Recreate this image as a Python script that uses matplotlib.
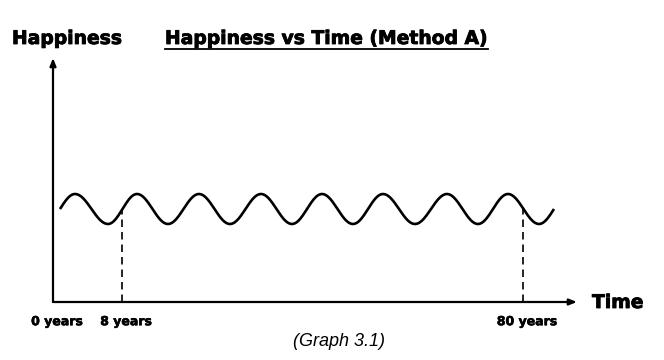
import numpy as np
import matplotlib
matplotlib.use('Agg')
import matplotlib.pyplot as plt
import matplotlib.patheffects as pe
from matplotlib.transforms import ScaledTranslation

# wave (x: units from the origin, y: height above the time axis)
wave_start = (7, 93)
wave_end = (501, 93)
extrema_x = [22, 55, 84, 115, 146, 177, 208, 239, 269, 300, 330, 362, 394, 425, 455, 486]
extrema_y = [108, 78, 108, 78, 108, 78, 108, 78, 108, 78, 108, 78, 108, 78, 108, 78]

# dashed markers at 8 years and 80 years
marker_x = [69, 470]
marker_y = [93, 93]

tick_pos = [0, 69, 470]
tick_labels = ['0 years', '8 years', '80 years']


def curve_through(px, py, mid_first, mid_last, n=40):
    xs, ys = [], []
    for i in range(len(px) - 1):
        t = np.linspace(0, 1, n)
        x0, x1, y0, y1 = px[i], px[i + 1], py[i], py[i + 1]
        if i == 0 and mid_first:
            s = np.sin(np.pi / 2 * t)
        elif i == len(px) - 2 and mid_last:
            s = 1 - np.cos(np.pi / 2 * t)
        else:
            s = (1 - np.cos(np.pi * t)) / 2
        xs.append(x0 + (x1 - x0) * t)
        ys.append(y0 + (y1 - y0) * s)
    return np.concatenate(xs), np.concatenate(ys)


fig = plt.figure(figsize=(6.64, 3.6), dpi=100)
W, H = 664, 360
ox, oy = 53, 302
ax = fig.add_axes([ox / W, (H - oy) / H, (577 - ox) / W, (oy - 58) / H])
ax.set_xlim(0, 524)
ax.set_ylim(0, 244)
for s in ax.spines.values():
    s.set_visible(False)
ax.set_yticks([])
ax.patch.set_alpha(0)

# axes with arrows
arrow = dict(arrowstyle='-|>,head_length=0.45,head_width=0.18', color='black', lw=1.6,
             shrinkA=0, shrinkB=0)
ax.annotate('', xy=(1, 0), xytext=(0, 0), xycoords='axes fraction', arrowprops=arrow)
ax.annotate('', xy=(0, 1), xytext=(0, 0), xycoords='axes fraction', arrowprops=arrow)

px = [wave_start[0]] + extrema_x + [wave_end[0]]
py = [wave_start[1]] + extrema_y + [wave_end[1]]
cx, cy = curve_through(px, py, True, True)
ax.plot(cx, cy, color='black', lw=1.9, solid_capstyle='butt')

for mx, my in zip(marker_x, marker_y):
    ax.plot([mx, mx], [0, my], color='black', lw=1.2, dashes=(4.5, 3))

heavy = [pe.withStroke(linewidth=0.6, foreground='black')]
heavy_small = [pe.withStroke(linewidth=0.4, foreground='black')]

ax.set_xticks(tick_pos)
ax.set_xticklabels(tick_labels, fontsize=9, fontweight='bold', family='DejaVu Sans')
ax.tick_params(axis='x', length=0, pad=9.5)
offset = ScaledTranslation(4 / 100, 0, fig.dpi_scale_trans)
for lab in ax.get_xticklabels():
    lab.set_transform(lab.get_transform() + offset)
    lab.set_path_effects(heavy_small)

fig.text(12 / W, 1 - 44 / H, 'Happiness', fontsize=13.5, fontweight='bold',
         family='DejaVu Sans', va='baseline', ha='left', path_effects=heavy)
fig.text(592 / W, 1 - 308 / H, 'Time', fontsize=13.5, fontweight='bold',
         family='DejaVu Sans', va='baseline', ha='left', path_effects=heavy)
title = fig.text(326.5 / W, 1 - 44 / H, 'Happiness vs Time (Method A)', fontsize=13.5,
                 fontweight='bold', family='DejaVu Sans', va='baseline', ha='center',
                 path_effects=heavy)
fig.text(339 / W, 1 - 346 / H, '(Graph 3.1)', fontsize=13, style='italic',
         family='Liberation Sans', va='baseline', ha='center')

# underline the title
fig.canvas.draw()
bb = title.get_window_extent()
uy = 1 - 49 / H
fig.add_artist(plt.Line2D([bb.x0 / W, bb.x1 / W], [uy, uy], color='black', lw=1.3))

fig.savefig('out.png', dpi=100)
